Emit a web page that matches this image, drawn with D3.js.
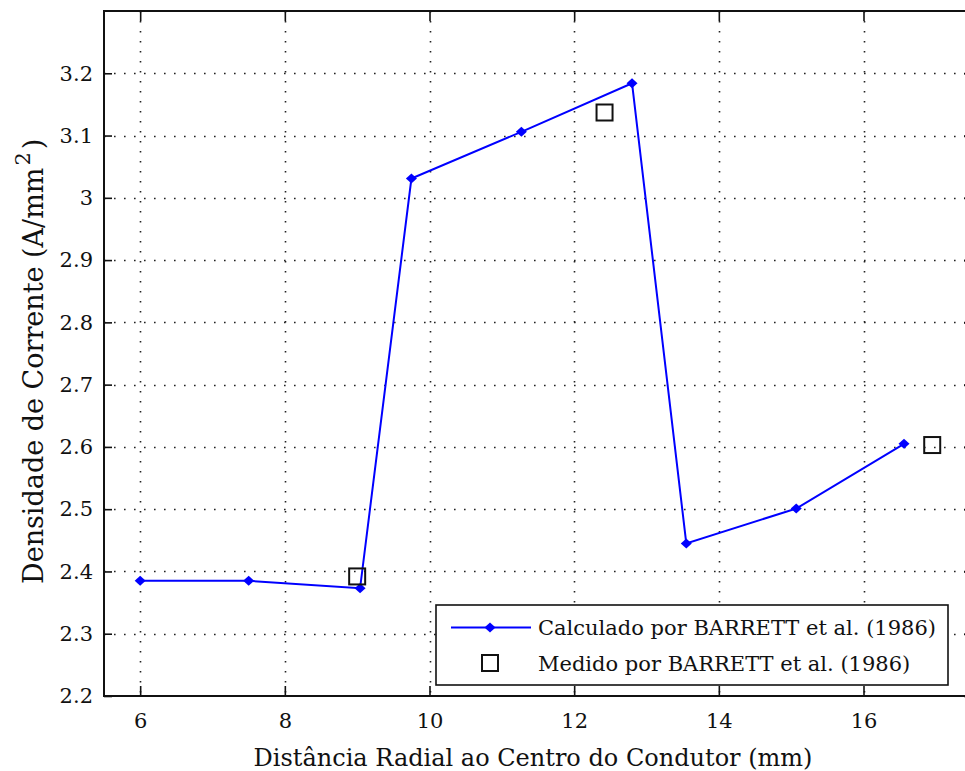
<!DOCTYPE html>
<html>
<head>
<meta charset="utf-8">
<script src="https://cdn.jsdelivr.net/npm/d3@7"></script>
<style>
  html, body { margin: 0; padding: 0; background: #fff; }
  svg { display: block; }
  text { font-family: "DejaVu Serif", serif; fill: #111; }
</style>
</head>
<body>
<svg id="chart" width="965" height="771"></svg>
<script>
// Radial current density distribution in the conductor
const xTicks = [6, 8, 10, 12, 14, 16];
const yTicks = [2.2, 2.3, 2.4, 2.5, 2.6, 2.7, 2.8, 2.9, 3.0, 3.1, 3.2];

// Calculated values (line with markers)
const calcX = [6.0, 7.5, 9.04, 9.75, 11.27, 12.8, 13.55, 15.07, 16.56];
const calcY = [2.385, 2.385, 2.373, 3.031, 3.106, 3.184, 2.445, 2.501, 2.605];

// Measured values (open squares)
const measX = [9.0, 12.42, 16.95];
const measY = [2.392, 3.137, 2.603];

const seriesNames = ["Calculado por BARRETT et al. (1986)", "Medido por BARRETT et al. (1986)"];
const xTitle = "Distância Radial ao Centro do Condutor (mm)";

const svg = d3.select("#chart");
const plotL = 104, plotR = 972, plotT = 11, plotB = 696;

const x = d3.scaleLinear().domain([5.5, 17.5]).range([plotL, plotR]);
const y = d3.scaleLinear().domain([2.2, 3.3]).range([plotB, plotT]);

const fmtY = v => (Math.abs(v - 3) < 1e-9 ? "3" : d3.format(".1f")(v));

// Dotted grid
const grid = svg.append("g").attr("class", "grid")
  .attr("stroke", "#222").attr("stroke-width", 1.6)
  .attr("stroke-dasharray", "1.6 8.4");
grid.selectAll("line.v").data(xTicks).join("line").attr("class", "v")
  .attr("x1", d => Math.round(x(d)) + 0.5).attr("x2", d => Math.round(x(d)) + 0.5)
  .attr("y1", plotT).attr("y2", plotB);
grid.selectAll("line.h").data(yTicks.slice(1)).join("line").attr("class", "h")
  .attr("y1", d => Math.round(y(d)) + 0.5).attr("y2", d => Math.round(y(d)) + 0.5)
  .attr("x1", plotL).attr("x2", plotR);

// Axes with inward ticks on all four sides
function styleAxis(g) {
  g.selectAll(".domain").remove();
  g.selectAll(".tick line").attr("stroke", "#111").attr("stroke-width", 1.6);
  g.selectAll(".tick text")
    .style("font-family", "'DejaVu Serif', serif")
    .style("font-size", "21px")
    .style("fill", "#111");
}
svg.append("g").attr("transform", `translate(0,${plotB})`)
  .call(d3.axisBottom(x).tickValues(xTicks).tickSize(-10).tickPadding(17).tickFormat(d3.format("d")))
  .call(styleAxis);
svg.append("g").attr("transform", `translate(0,${plotT})`)
  .call(d3.axisTop(x).tickValues(xTicks).tickSize(-10).tickFormat(""))
  .call(styleAxis);
svg.append("g").attr("transform", `translate(${plotL},0)`)
  .call(d3.axisLeft(y).tickValues(yTicks).tickSize(-8).tickPadding(11).tickFormat(fmtY))
  .call(styleAxis);
svg.append("g").attr("transform", `translate(${plotR},0)`)
  .call(d3.axisRight(y).tickValues(yTicks).tickSize(-8).tickFormat(""))
  .call(styleAxis);

// Plot frame
svg.append("rect").attr("x", plotL).attr("y", plotT)
  .attr("width", plotR - plotL).attr("height", plotB - plotT)
  .attr("fill", "none").attr("stroke", "#111").attr("stroke-width", 2);

// Calculated series
const calc = calcX.map((v, i) => [v, calcY[i]]);
const diamond = "M0,-5L5.5,0L0,5L-5.5,0Z";
svg.append("path").datum(calc)
  .attr("fill", "none").attr("stroke", "#0000ff").attr("stroke-width", 2)
  .attr("d", d3.line().x(d => x(d[0])).y(d => y(d[1])));
svg.append("g").selectAll("path").data(calc).join("path")
  .attr("transform", d => `translate(${x(d[0])},${y(d[1])})`)
  .attr("d", diamond).attr("fill", "#0000ff");

// Measured series
const meas = measX.map((v, i) => [v, measY[i]]);
svg.append("g").selectAll("rect").data(meas).join("rect")
  .attr("x", d => x(d[0]) - 8).attr("y", d => y(d[1]) - 8)
  .attr("width", 16).attr("height", 16)
  .attr("fill", "none").attr("stroke", "#111").attr("stroke-width", 2);

// Legend
const lg = svg.append("g").attr("transform", "translate(436,605)");
lg.append("rect").attr("width", 512).attr("height", 80)
  .attr("fill", "#fff").attr("stroke", "#111").attr("stroke-width", 1.6);
lg.append("line").attr("x1", 15).attr("x2", 95).attr("y1", 22.5).attr("y2", 22.5)
  .attr("stroke", "#0000ff").attr("stroke-width", 2);
lg.append("path").attr("transform", "translate(54,22.5)").attr("d", diamond).attr("fill", "#0000ff");
lg.append("rect").attr("x", 46).attr("y", 50).attr("width", 16).attr("height", 16)
  .attr("fill", "none").attr("stroke", "#111").attr("stroke-width", 2);
lg.selectAll("text").data(seriesNames).join("text")
  .attr("x", 102).attr("y", (d, i) => 22.5 + i * 36)
  .attr("dy", "0.35em").attr("font-size", 21).text(d => d);

// Axis titles
svg.append("text").attr("x", 533).attr("y", 766)
  .attr("text-anchor", "middle").attr("font-size", 24).text(xTitle);

const yl = svg.append("text")
  .attr("transform", "translate(43,584) rotate(-90)")
  .attr("font-size", 27);
yl.append("tspan").text("Densidade de Corrente (A/mm");
yl.append("tspan").attr("font-size", 21).attr("dx", 2).attr("dy", -13).text("2");
yl.append("tspan").attr("dx", 3).attr("dy", 13).text(")");
</script>
</body>
</html>
